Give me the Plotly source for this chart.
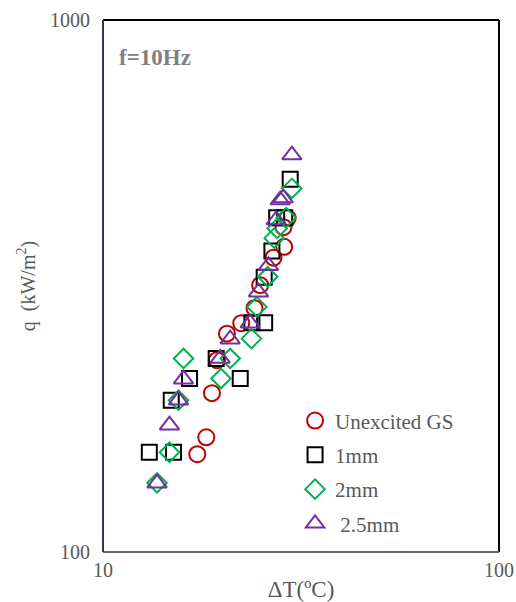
import plotly.graph_objects as go

# Boiling curves: wall superheat (ΔT, °C) vs heat flux (q, kW/m²), f = 10 Hz
unexcited_dt = [17.3, 18.23, 18.84, 19.4, 20.56, 22.34, 24.13, 24.94, 26.95, 28.68, 28.56, 29.27]
unexcited_q = [152.7, 164.3, 198.9, 229.4, 257.3, 269.2, 287.3, 317.4, 357.5, 374.6, 408.0, 424.3]

mm1_dt = [13.09, 15.07, 14.87, 16.54, 22.21, 19.31, 23.77, 25.6, 25.53, 26.7, 27.45, 28.76, 29.7]
mm1_q = [154.0, 154.0, 192.9, 211.9, 211.9, 231.1, 269.8, 269.8, 328.6, 367.8, 424.9, 424.9, 501.7]

mm2_dt = [13.69, 14.72, 15.51, 15.97, 19.86, 20.95, 23.71, 24.47, 26.05, 27.06, 27.53, 29.01, 29.99]
mm2_q = [134.9, 154.0, 192.9, 231.1, 211.9, 231.1, 251.8, 288.9, 329.1, 389.0, 405.7, 425.2, 482.5]

mm25_dt = [13.69, 14.72, 15.51, 15.97, 19.77, 20.95, 23.53, 24.7, 26.17, 27.37, 28.02, 28.51, 29.99]
mm25_q = [134.7, 173.1, 192.9, 211.3, 231.1, 251.2, 269.2, 307.9, 345.3, 420.6, 458.6, 462.6, 557.3]

series = [
    ("Unexcited GS", unexcited_dt, unexcited_q, "circle-open", "#C00000", 16),
    ("1mm", mm1_dt, mm1_q, "square-open", "#000000", 15),
    ("2mm", mm2_dt, mm2_q, "diamond-open", "#00B050", 15),
    ("\u00a02.5mm", mm25_dt, mm25_q, "triangle-up-open", "#7030A0", 17),
]

SERIF = "Liberation Serif, Times New Roman, serif"
GRAY = "#595959"

fig = go.Figure()
for i, (name, xs, ys, sym, col, sz) in enumerate(series):
    fig.add_trace(go.Scatter(
        x=xs, y=ys, mode="markers", name=name, legendgroup=f"g{i}",
        marker=dict(symbol=sym, size=sz, color=col, line=dict(width=2, color=col)),
    ))

fig.update_layout(
    width=516, height=602,
    margin=dict(l=103, r=17, t=20, b=50),
    plot_bgcolor="white", paper_bgcolor="white",
    font=dict(family=SERIF, color=GRAY, size=20),
    showlegend=True,
    legend=dict(
        x=0.485, y=0.285, xanchor="left", yanchor="top",
        bgcolor="rgba(0,0,0,0)", font=dict(family=SERIF, size=21, color=GRAY),
        tracegroupgap=4, itemsizing="trace",
    ),
    xaxis=dict(
        type="log", range=[1, 2], showgrid=False, zeroline=False, showline=False,
        automargin=False,
        tickvals=[10, 100], ticktext=["10", "100"], ticks="", ticklabelstandoff=4,
        tickfont=dict(family=SERIF, size=20, color=GRAY),
        title=dict(text="ΔT(ºC)", font=dict(family=SERIF, size=23, color=GRAY), standoff=0),
    ),
    yaxis=dict(
        type="log", range=[2, 3], showgrid=False, zeroline=False, showline=False,
        automargin=False,
        tickvals=[100, 1000], ticktext=["100", "1000"], ticks="", ticklabelstandoff=12,
        tickfont=dict(family=SERIF, size=20, color=GRAY),
    ),
    annotations=[
        dict(
            x=0.035, y=0.93, xref="paper", yref="paper", xanchor="left", yanchor="middle",
            text="<b>f=10Hz</b>", showarrow=False,
            font=dict(family=SERIF, size=23, color="#808080"),
        ),
        dict(
            x=-0.194, y=0.5, xref="paper", yref="paper", xanchor="center", yanchor="middle",
            text="q  (kW/m<sup>2</sup>)", textangle=-90, showarrow=False,
            font=dict(family=SERIF, size=20, color=GRAY),
        ),
    ],
    shapes=[
        dict(type="line", xref="paper", yref="paper", x0=0, x1=1, y0=1, y1=1, line=dict(color="#000000", width=2)),
        dict(type="line", xref="paper", yref="paper", x0=1, x1=1, y0=0, y1=1, line=dict(color="#000000", width=2)),
        dict(type="line", xref="paper", yref="paper", x0=0, x1=1, y0=0, y1=0, line=dict(color="#666666", width=2)),
        dict(type="line", xref="paper", yref="paper", x0=0, x1=0, y0=0, y1=1, line=dict(color="#3F2A6B", width=2)),
    ],
)

fig.write_html("out.html")
